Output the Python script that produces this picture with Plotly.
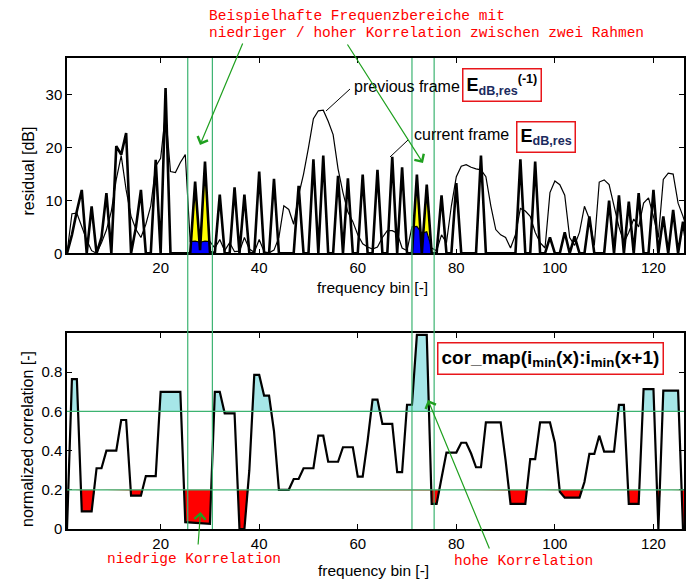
import plotly.graph_objects as go
import numpy as np

# frequency bins 1..127
bins = list(range(1, 128))

# residual of the current frame (thick line) [dB]
current_frame = [
    0, 3.5, 8, 12, 0, 8.9, 0, 3, 11.4, 0,
    20.3, 18.7, 22.8, 0, 5, 12, 0, 0, 17.7, 0,
    31.3, 0, 0, 0, 0, 0, 13.6, 0.6, 17.4, 0.3,
    0, 11.1, 0, 0, 12.5, 0, 11.1, 0, 0, 15.5,
    0, 0, 14.1, 0, 0, 0, 0, 12.8, 0, 0,
    17.8, 0, 18.5, 0, 0, 14.7, 0, 14.2, 0, 0,
    14.9, 0, 0, 15.8, 0, 0, 18.3, 0, 16.3, 0,
    0, 14.9, 0, 13.0, 0, 0, 11.0, 0, 0, 13.3,
    0, 0, 0, 0, 18.5, 0, 0, 0, 0, 0,
    0, 0, 17.8, 0, 0, 17.4, 0, 0, 3, 0,
    0, 4, 0, 3.2, 0, 0, 7, 0, 0, 0,
    10, 0, 11, 0, 9.8, 0, 11.4, 0, 0, 12,
    0, 7, 0, 8.2, 0, 6, 0,
]

# residual of the previous frame (thin line) [dB]
previous_frame = [
    0, 7.5, 7.6, 5.0, 2.5, 0.5, 0.0, 2.0, 4.4, 8.0,
    14.0, 18.5, 12.0, 7.0, 4.5, 3.0, 5.5, 9.0, 16.5, 18.0,
    26.6, 15.5, 15.3, 17.2, 18.7, 2.2, 2.3, 2.1, 2.3, 2.2,
    1.0, 2.6, 0.5, 2.0, 0.3, 0.4, 3.0, 0.8, 0.2, 2.6,
    0.3, 0.1, 0.6, 3.0, 9.0, 8.3, 5.5, 11.0, 15.0, 20.0,
    25.5, 27.0, 27.1, 25.0, 22.5, 16.0, 11.5, 7.8, 6.0, 3.5,
    1.8, 1.2, 0.8, 1.2, 3.0, 4.3, 4.3, 3.8, 1.0, 0.5,
    5.0, 5.1, 3.8, 4.1, 1.0, 0.5, 3.5, 2.0, 9.0, 14.5,
    16.5, 16.8, 16.3, 16.0, 15.8, 14.5, 9.0, 4.5, 3.5, 3.0,
    1.0, 3.5, 8.5, 8.0, 7.0, 4.0, 2.0, 1.0, 11.5, 13.7,
    13.0, 11.0, 3.0, 1.5, 4.0, 8.9, 6.5, 1.5, 13.5, 13.9,
    13.0, 9.0, 5.0, 2.0, 4.0, 6.5, 5.0, 9.5, 10.5, 7.0,
    3.0, 14.0, 15.2, 15.0, 9.5, 7.0, 4.0,
]

# normalized correlation between the two frames
correlation = [
    0.0, 0.765, 0.765, 0.09, 0.09, 0.09, 0.31, 0.31, 0.40, 0.40,
    0.40, 0.556, 0.556, 0.17, 0.17, 0.17, 0.27, 0.27, 0.27, 0.70,
    0.70, 0.70, 0.70, 0.70, 0.035, 0.033, 0.031, 0.030, 0.028, 0.026,
    0.70, 0.70, 0.59, 0.59, 0.59, 0.0, 0.0, 0.30, 0.786, 0.786,
    0.68, 0.68, 0.50, 0.20, 0.20, 0.20, 0.255, 0.255, 0.31, 0.31,
    0.31, 0.476, 0.476, 0.343, 0.343, 0.343, 0.417, 0.417, 0.417, 0.267,
    0.267, 0.45, 0.66, 0.66, 0.536, 0.536, 0.536, 0.29, 0.29, 0.634,
    0.634, 0.99, 0.99, 0.99, 0.128, 0.128, 0.26, 0.39, 0.39, 0.39,
    0.44, 0.44, 0.385, 0.315, 0.315, 0.544, 0.544, 0.544, 0.544, 0.35,
    0.128, 0.128, 0.128, 0.128, 0.357, 0.357, 0.544, 0.544, 0.544, 0.44,
    0.19, 0.16, 0.16, 0.16, 0.16, 0.24, 0.383, 0.383, 0.476, 0.395,
    0.395, 0.395, 0.633, 0.633, 0.128, 0.128, 0.128, 0.714, 0.714, 0.714,
    0.0, 0.706, 0.706, 0.706, 0.706, 0.0, 0.0,
]

bin_ticks = [20, 40, 60, 80, 100, 120]
res_ticks = [0, 10, 20, 30]
corr_ticks = [0, 0.2, 0.4, 0.6, 0.8]
corr_ticktext = ["0", "0.2", "0.4", "0.6", "0.8"]

# example frequency ranges (low / high correlation)
bands = [(25.5, 30.5), (71.0, 75.5)]
low_thr = 0.2
high_thr = 0.6

# the page has an 8px body margin, so the figure is placed at (8, 8)
OFF = 8
W, H = 690, 572
L, R, T, B = 59, 14, 50, 51


# page pixel -> paper coordinates
def px(x):
    return (x - OFF - L) / (W - L - R)


def py(y):
    return (H - B - (y - OFF)) / (H - T - B)


FONT = "Liberation Sans, Arial, sans-serif"
MONO = "Liberation Mono, Courier New, monospace"
GREEN = "#3cb371"

fig = go.Figure()

# yellow / blue areas in the marked frequency ranges
for a, b in bands:
    xf = np.linspace(a, b, 400)
    cur_f = np.interp(xf, bins, current_frame)
    prev_f = np.interp(xf, bins, previous_frame)
    fig.add_trace(go.Scatter(x=xf, y=cur_f, mode="lines", fill="tozeroy",
                             fillcolor="#ffff00", line=dict(width=0),
                             xaxis="x", yaxis="y", hoverinfo="skip"))
    fig.add_trace(go.Scatter(x=xf, y=np.minimum(cur_f, prev_f), mode="lines",
                             fill="tozeroy", fillcolor="#0000ff",
                             line=dict(width=0), xaxis="x", yaxis="y",
                             hoverinfo="skip"))

fig.add_trace(go.Scatter(x=bins, y=previous_frame, mode="lines",
                         line=dict(color="black", width=1.2),
                         xaxis="x", yaxis="y", name="previous frame"))
fig.add_trace(go.Scatter(x=bins, y=current_frame, mode="lines",
                         line=dict(color="black", width=2.6),
                         xaxis="x", yaxis="y", name="current frame"))

# correlation: cyan above 0.6, red below 0.2
xf = np.linspace(1, 127, 12601)
corr_f = np.interp(xf, bins, correlation)
for thr, fn, col in [(high_thr, np.maximum, "#a6e6e8"), (low_thr, np.minimum, "#ff0000")]:
    fig.add_trace(go.Scatter(x=xf, y=np.full_like(xf, thr), mode="lines",
                             line=dict(width=0), xaxis="x2", yaxis="y2",
                             hoverinfo="skip"))
    fig.add_trace(go.Scatter(x=xf, y=fn(corr_f, thr), mode="lines",
                             fill="tonexty", fillcolor=col, line=dict(width=0),
                             xaxis="x2", yaxis="y2", hoverinfo="skip"))

fig.add_trace(go.Scatter(x=bins, y=correlation, mode="lines",
                         line=dict(color="black", width=2.2),
                         xaxis="x2", yaxis="y2", name="cor_map"))

axis_style = dict(showline=True, linewidth=1.5, linecolor="black",
                  mirror="ticks", ticks="inside", ticklen=5, tickwidth=1,
                  tickcolor="black", showgrid=False, zeroline=False,
                  tickfont=dict(family=FONT, size=15, color="black"))

fig.update_layout(
    width=W, height=H,
    margin=dict(l=L, r=R, t=T, b=B),
    paper_bgcolor="white", plot_bgcolor="white",
    showlegend=False,
    xaxis=dict(axis_style, range=[1, 126.2], tickvals=bin_ticks, anchor="y"),
    yaxis=dict(axis_style, range=[0, 37], tickvals=res_ticks,
               domain=[py(253.3), 1], anchor="x"),
    xaxis2=dict(axis_style, range=[1, 126.2], tickvals=bin_ticks, anchor="y2"),
    yaxis2=dict(axis_style, range=[0, 1], tickvals=corr_ticks,
                ticktext=corr_ticktext, domain=[0, py(333)], anchor="x2"),
)

shapes = []
for a, b in bands:
    for e in (a, b):
        shapes.append(dict(type="line", xref="x", yref="paper", x0=e, x1=e,
                           y0=0, y1=1, line=dict(color=GREEN, width=1.2),
                           layer="above"))
for thr in (high_thr, low_thr):
    shapes.append(dict(type="line", xref="paper", yref="y2", x0=0, x1=1,
                       y0=thr, y1=thr, line=dict(color=GREEN, width=1.2),
                       layer="above"))
# leader lines of the frame labels
shapes.append(dict(type="line", xref="paper", yref="paper", x0=px(350), y0=py(89),
                   x1=px(326), y1=py(111), line=dict(color="black", width=1)))
shapes.append(dict(type="line", xref="paper", yref="paper", x0=px(408), y0=py(140),
                   x1=px(390), y1=py(157), line=dict(color="black", width=1)))
fig.update_layout(shapes=shapes)

ann = []


def text(x, y, s, size=15, color="black", family=FONT, xanchor="center", angle=0, **kw):
    ann.append(dict(x=px(x), y=py(y), xref="paper", yref="paper", text=s,
                    showarrow=False, xanchor=xanchor, yanchor="middle",
                    textangle=angle, font=dict(family=family, size=size, color=color),
                    **kw))


def arrow(tip, tail):
    ann.append(dict(x=px(tip[0]), y=py(tip[1]), xref="paper", yref="paper",
                    ax=tail[0] - tip[0], ay=tail[1] - tip[1], text="",
                    showarrow=True, arrowhead=4, arrowsize=1.8, arrowwidth=1.2,
                    arrowcolor="#1fa01f"))


# axis titles
text(28.5, 171, "residual [dB]", size=16, angle=-90)
text(27, 439, "normalized correlation [-]", size=16, angle=-90)
text(372, 287, "frequency bin [-]", size=15.5)
text(373, 570, "frequency bin [-]", size=15.5)

# red remarks
text(208, 16.5, "Beispielhafte Frequenzbereiche mit", size=14.5, color="#ff0000",
     family=MONO, xanchor="left", borderpad=0)
text(208, 33.5, "niedriger / hoher Korrelation zwischen zwei Rahmen", size=14.5,
     color="#ff0000", family=MONO, xanchor="left", borderpad=0)
text(194, 559, "niedrige Korrelation", size=14.5, color="#ff0000", family=MONO)
text(523, 561, "hohe Korrelation", size=14.5, color="#ff0000", family=MONO)

# frame labels
text(352, 86, "previous frame", size=16, xanchor="left")
text(412, 135, "current frame", size=16, xanchor="left")
sub = '<span style="color:#1b2a5e">'
text(502, 85, "<b>E<sub>" + sub + "dB,res</span></sub><sup>(-1)</sup></b>", size=18,
     bordercolor="#e8161b", borderwidth=1.5, borderpad=3)
text(546, 137, "<b>E<sub>" + sub + "dB,res</span></sub></b>", size=18,
     bordercolor="#e8161b", borderwidth=1.5, borderpad=3)
text(550, 358, "<b>cor_map(i<sub>min</sub>(x):i<sub>min</sub>(x+1)</b>", size=19,
     bordercolor="#e8161b", borderwidth=1.5, borderpad=3)

arrow((200, 145), (243.3, 42))
arrow((423, 163), (346.5, 43))
arrow((200.5, 512), (198, 546))
arrow((428, 400), (490, 550))

fig.update_layout(annotations=ann)

fig.write_html("out.html")
